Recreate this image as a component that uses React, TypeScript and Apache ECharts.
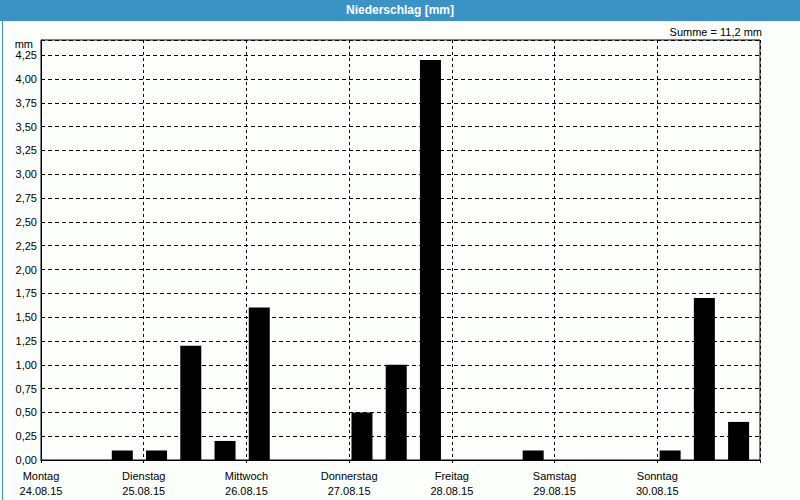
import React, { useEffect, useRef } from "react";
import * as echarts from "echarts";

const days = ["Montag", "Dienstag", "Mittwoch", "Donnerstag", "Freitag", "Samstag", "Sonntag"];
const dates = ["24.08.15", "25.08.15", "26.08.15", "27.08.15", "28.08.15", "29.08.15", "30.08.15"];
// centre hour of each 8-hour slot within a day
const slotHours = [3, 11, 19];
// precipitation [mm] per day, three 8-hour slots each
const monValues = [0, 0, 0.1];
const tueValues = [0.1, 1.2, 0.2];
const wedValues = [1.6, 0, 0];
const thuValues = [0.5, 1.0, 4.2];
const friValues = [0, 0, 0.1];
const satValues = [0, 0, 0];
const sunValues = [0.1, 1.7, 0.4];
const yTicks = [0, 0.25, 0.5, 0.75, 1, 1.25, 1.5, 1.75, 2, 2.25, 2.5, 2.75, 3, 3.25, 3.5, 3.75, 4, 4.25];

const FONT = "Liberation Sans, Arial, sans-serif";
const BLUE = "#3a92c5";

export default function App() {
  const ref = useRef<HTMLDivElement>(null);
  useEffect(() => {
    if (!ref.current) return;
    const chart = echarts.init(ref.current, null, { renderer: "svg" });
    const perDay = [monValues, tueValues, wedValues, thuValues, friValues, satValues, sunValues];
    const data: [number, number][] = [];
    let sum = 0;
    perDay.forEach((vals, d) =>
      vals.forEach((v, k) => {
        sum += v;
        if (v > 0) data.push([d * 24 + slotHours[k], v]);
      })
    );
    const fmt = (v: number, dec: number) => v.toFixed(dec).replace(".", ",");
    chart.setOption({
      animation: false,
      backgroundColor: "#fcfefc",
      title: [
        {
          text: "Niederschlag [mm]",
          left: "center",
          top: 4,
          padding: 0,
          textStyle: { color: "#ffffff", fontSize: 12, fontWeight: "bold", fontFamily: FONT },
        },
        {
          text: "Summe = " + fmt(sum, 1) + " mm",
          right: 38,
          top: 26,
          padding: 0,
          textStyle: { color: "#000", fontSize: 11, fontWeight: "normal", fontFamily: FONT },
        },
      ],
      graphic: [
        { type: "rect", left: 0, top: 0, z: -1, shape: { width: 800, height: 21 }, style: { fill: BLUE } },
        {
          type: "rect",
          left: 0,
          top: 0,
          z: -1,
          shape: { x: 0.5, y: 0.5, width: 799, height: 499 },
          style: { fill: "none", stroke: BLUE, lineWidth: 1 },
        },
      ],
      grid: {
        left: 41,
        right: 40,
        top: 40,
        bottom: 40,
        show: true,
        borderColor: "#000",
        borderWidth: 1,
        backgroundColor: "transparent",
      },
      xAxis: {
        type: "value",
        min: 0,
        max: 168,
        interval: 24,
        axisLine: { show: true, lineStyle: { color: "#000", width: 1 } },
        axisTick: { show: true, length: 3, lineStyle: { color: "#000" } },
        splitLine: { show: true, lineStyle: { color: "#000", type: [3, 3], width: 1 } },
        axisLabel: {
          margin: 8,
          color: "#000",
          fontSize: 11,
          lineHeight: 15,
          fontFamily: FONT,
          formatter: (v: number) => {
            const i = Math.round(v / 24);
            return i < days.length ? days[i] + "\n" + dates[i] : "";
          },
        },
      },
      yAxis: {
        type: "value",
        min: 0,
        max: 4.41,
        interval: 0.25,
        name: "mm",
        nameLocation: "end",
        nameGap: -7,
        nameTextStyle: { color: "#000", fontSize: 11, fontFamily: FONT, align: "right", verticalAlign: "middle", padding: [0, 8, 0, 0] },
        axisLine: { show: true, lineStyle: { color: "#000", width: 1 } },
        axisTick: { show: false },
        splitLine: { show: true, lineStyle: { color: "#000", type: [4, 3], width: 1 } },
        axisLabel: {
          margin: 4,
          color: "#000",
          fontSize: 11,
          fontFamily: FONT,
          formatter: (v: number) => (yTicks.some((t) => Math.abs(t - v) < 1e-6) ? fmt(v, 2) : ""),
        },
      },
      series: [
        {
          type: "bar",
          data,
          barWidth: 21,
          itemStyle: { color: "#000" },
        },
      ],
    });
    return () => chart.dispose();
  }, []);
  return <div ref={ref} style={{ position: "absolute", left: 0, top: 0, width: 800, height: 500 }} />;
}
